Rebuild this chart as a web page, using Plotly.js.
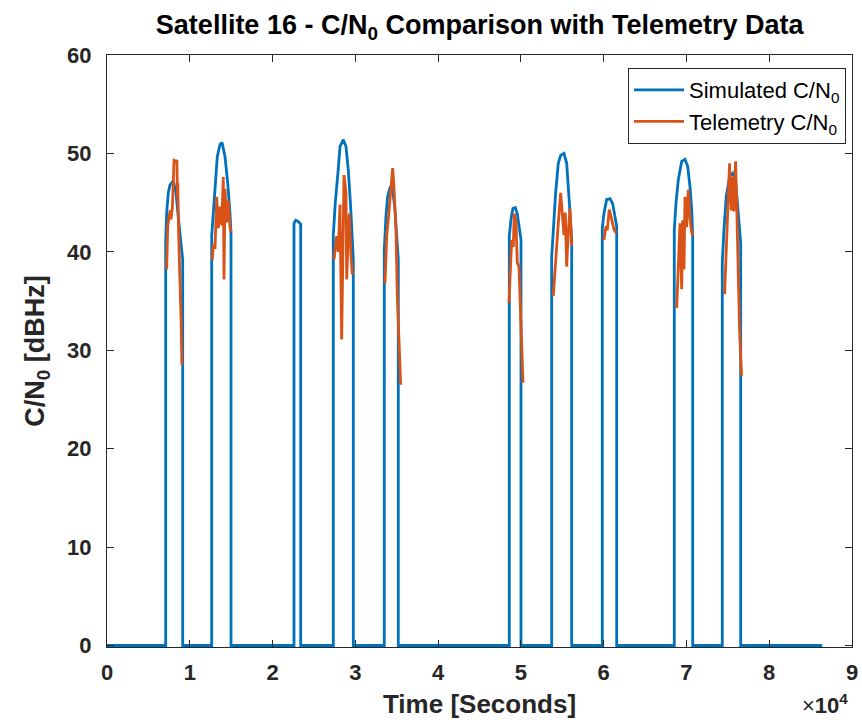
<!DOCTYPE html>
<html>
<head>
<meta charset="utf-8">
<script src="https://cdn.plot.ly/plotly-3.0.1.min.js"></script>
<style>html,body{margin:0;padding:0;background:#fff;}#chart{width:862px;height:722px;}</style>
</head>
<body>
<div id="chart"></div>
<script>
// Simulated C/N0 (time in seconds, value in dBHz)
const simTime = [0,
  7091,7091,7212,7405,7611,8010,8335,8613,8940,9145,9145,
  12648,12648,12843,13047,13326,13650,13896,14254,14580,14858,14980,14980,
  22590,22590,22800,23100,23400,23400,
  27338,27338,27580,27926,28146,28546,28872,29150,29433,29754,29754,
  33498,33498,33700,33900,34187,34513,34790,34990,35190,35190,
  48600,48600,48800,49030,49320,49563,49800,50012,50012,
  53720,53720,53913,54199,54517,54806,55206,55532,55805,56010,56137,56137,
  59833,59833,60036,60356,60768,61087,61366,61573,61573,
  68531,68531,68739,69015,69426,69824,70150,70429,70635,70754,70754,
  74329,74329,74528,74809,75208,75606,75933,76211,76552,76552,
  86400];
const simCN0 = [0,
  0,41.1,44,46,46.8,47.2,46,43.5,40.5,39.2,0,
  0,41.6,43.9,47,49.7,50.9,51.1,49.7,47,43.9,41.9,0,
  0,42.9,43.2,43.1,42.8,0,
  0,41.7,45,48.3,50.7,51.4,50.7,48.3,44.6,39.2,0,
  0,40.2,43.6,45.6,46.5,46.3,44.3,42.2,39.2,0,
  0,41.6,43.3,44.4,44.5,43.9,42.6,41.2,0,
  0,39.5,42.2,46,49,49.8,50,49,45.6,42.9,41.2,0,
  0,42.4,43.9,45.3,45.4,44.9,43.6,42.6,0,
  0,42.2,45,47.3,49.2,49.4,48.7,46.6,44.3,41.6,0,
  0,38.9,42.2,45.6,47.6,48,47.3,44.6,40.9,0,
  0];

// Telemetry C/N0 (null separates passes)
const telTime = [
  7212,7333,7500,7620,7730,7900,8000,8100,8300,8450,8500,8550,8650,8800,8950,9050,null,
  12721,12843,13047,13252,13447,13650,13856,14049,14134,14254,14460,14653,14858,14980,null,
  27422,27748,27941,28146,28351,28472,28630,28872,28956,29150,29271,29476,29633,null,
  33582,33788,33981,34187,34513,34670,34912,35069,35274,35479,null,
  48560,48886,49080,49200,49406,49563,49768,49889,50095,50253,null,
  53913,54239,54517,54806,55048,55206,55363,55532,55725,55931,56137,null,
  60036,60278,60436,60677,60967,61245,61487,null,
  68822,69015,69220,69426,69547,69704,69824,70029,70223,70429,70586,70754,null,
  74608,74809,75002,75208,75413,75606,75727,75933,76090,76211,76416,76658];
const telCN0 = [
  38.2,42.6,43.5,44.2,43.3,44.5,47,49.3,49.2,49.3,45.5,47,42,38,33,28.5,null,
  39.2,40.8,40.3,45.6,42.4,44.6,42.7,47.6,37.2,46.4,43,45.2,42.5,42,null,
  39.2,41.6,40,44.8,31.1,41,47.8,46,37.2,42,43.9,39.5,37.7,null,
  36.8,41.6,43.3,45.6,48.5,46.5,42.2,35.5,30.4,26.5,null,
  34.8,41.2,40.5,43.9,43,38.9,38.5,35.5,30.4,26.7,null,
  35.5,39.9,42.9,46,43.8,41.7,44,38.5,42,44.4,40.6,null,
  41.2,42.6,42.2,44.3,43.3,42.3,41.9,null,
  34.3,38.2,42.9,36.2,43.2,38.2,45.6,42.5,46.3,43.5,42.2,41.6,null,
  35.7,39.9,45.6,49,44.2,47.6,44.1,49.2,44.1,38.2,32.1,27.4];

const xTickVals = [0,10000,20000,30000,40000,50000,60000,70000,80000,90000];
const xTickText = ['0','1','2','3','4','5','6','7','8','9'];
const yTickVals = [0,10,20,30,40,50,60];

const FONT = 'Liberation Sans, Arial, Helvetica, sans-serif';
const AX = '#262626';

const traces = [
  {x: simTime, y: simCN0, type: 'scatter', mode: 'lines', name: 'Simulated C/N<sub>0</sub>',
   line: {color: '#0072BD', width: 2.8}},
  {x: telTime, y: telCN0, type: 'scatter', mode: 'lines', name: 'Telemetry C/N<sub>0</sub>',
   connectgaps: false, line: {color: '#D95319', width: 2.8}}
];

const axisCommon = {
  showgrid: false, zeroline: false, showline: true, linecolor: AX, linewidth: 1,
  mirror: 'ticks', ticks: 'inside', ticklen: 7, tickwidth: 1, tickcolor: AX,
  tickfont: {family: FONT, size: 22, color: AX, weight: 'bold'}
};

const layout = {
  width: 862, height: 722,
  margin: {l: 107, r: 10, t: 55, b: 75},
  paper_bgcolor: '#fff', plot_bgcolor: '#fff',
  title: {text: 'Satellite 16 - C/N<sub>0</sub> Comparison with Telemetry Data',
          font: {family: FONT, size: 27, color: '#000', weight: 'bold'},
          x: 0.5565, xanchor: 'center', y: 0.966, yanchor: 'middle'},
  xaxis: Object.assign({}, axisCommon, {
    range: [0, 90000], tickmode: 'array', tickvals: xTickVals, ticktext: xTickText,
    ticklabelstandoff: 6,
    title: {text: 'Time [Seconds]', font: {family: FONT, size: 26, color: AX, weight: 'bold'}, standoff: 10}
  }),
  yaxis: Object.assign({}, axisCommon, {
    range: [-0.15, 60], tickmode: 'array', tickvals: yTickVals,
    ticklabelstandoff: 10,
    title: {text: 'C/N<sub>0</sub> [dBHz]', font: {family: FONT, size: 27, color: AX, weight: 'bold'}, standoff: 14}
  }),
  showlegend: true,
  legend: {x: 0.992, xanchor: 'right', y: 0.978, yanchor: 'top',
           bgcolor: '#fff', bordercolor: AX, borderwidth: 1, itemwidth: 50,
           font: {family: FONT, size: 22, color: '#000'}, tracegroupgap: 0},
  annotations: [{xref: 'paper', yref: 'paper', x: 0.997, y: -0.123, xanchor: 'right', yanchor: 'bottom',
                 showarrow: false, text: '×<b>10<sup>4</sup></b>',
                 font: {family: FONT, size: 22, color: AX}}]
};

Plotly.newPlot('chart', traces, layout, {staticPlot: true, displayModeBar: false});
</script>
</body>
</html>
